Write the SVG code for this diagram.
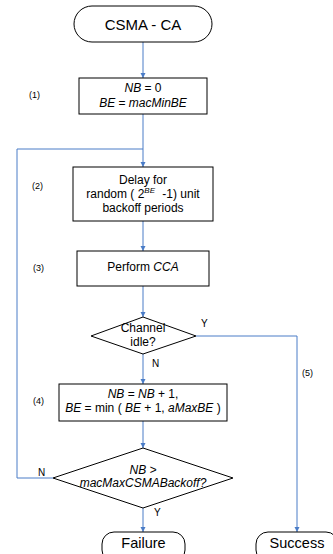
<svg xmlns="http://www.w3.org/2000/svg" width="333" height="554" viewBox="0 0 333 554">
<style>
.shape{fill:#fff;stroke:#000;stroke-width:1}
.t{font-family:"Liberation Sans",Arial,sans-serif;font-size:12px;fill:#000;text-anchor:middle}
.big{font-size:15px}
.term{font-size:14.5px}
.lab{font-family:"Liberation Sans",Arial,sans-serif;font-size:9px;fill:#000}
.yn{font-family:"Liberation Sans",Arial,sans-serif;font-size:10px;fill:#000}
.i{font-style:italic}
.c{fill:none;stroke:#4a7cc7;stroke-width:1}
</style>
<defs>
<marker id="ah" markerWidth="6" markerHeight="6" refX="5" refY="3" orient="auto" markerUnits="userSpaceOnUse">
<path d="M0,0.5 L5,3 L0,5.5 Z" fill="#4a7cc7"/>
</marker>
</defs>
<rect width="333" height="554" fill="#fff"/>
<g id="connectors">
<path class="c" d="M143,42 V78" marker-end="url(#ah)"/>
<path class="c" d="M143,114 V167" marker-end="url(#ah)"/>
<path class="c" d="M143,221 V251" marker-end="url(#ah)"/>
<path class="c" d="M143,286 V317" marker-end="url(#ah)"/>
<path class="c" d="M143,354 V384" marker-end="url(#ah)"/>
<path class="c" d="M143,421 V448" marker-end="url(#ah)"/>
<path class="c" d="M143,508 V532" marker-end="url(#ah)"/>
<path class="c" d="M196,336 H297 V532" marker-end="url(#ah)"/>
<path class="c" d="M53,478 H17 V149 H143"/>
<text class="yn" x="201" y="327">Y</text>
<text class="yn" x="152" y="367">N</text>
<text class="yn" x="38" y="476">N</text>
<text class="yn" x="154" y="516">Y</text>
<text class="lab" x="302" y="376">(5)</text>
</g>
<g id="start">
<rect class="shape" x="74" y="6" width="138" height="36" rx="18" ry="18"/>
<text class="t big" x="143" y="30">CSMA - CA</text>
</g>
<g id="step1">
<rect class="shape" x="79" y="78" width="128" height="36"/>
<text class="t" x="143" y="92"><tspan class="i">NB</tspan> = 0</text>
<text class="t" x="143" y="107"><tspan class="i">BE</tspan> = <tspan class="i">macMinBE</tspan></text>
<text class="lab" x="29" y="98">(1)</text>
</g>
<g id="step2">
<rect class="shape" x="73" y="167" width="140" height="54"/>
<text class="t" x="143" y="184">Delay for</text>
<text class="t" x="143" y="198">random ( 2<tspan class="i" font-size="8" dy="-5">BE</tspan><tspan dx="4" dy="5"> -1) unit</tspan></text>
<text class="t" x="143" y="212">backoff periods</text>
<text class="lab" x="32" y="189">(2)</text>
</g>
<g id="step3">
<rect class="shape" x="77" y="251" width="132" height="35"/>
<text class="t" x="143" y="271">Perform <tspan class="i">CCA</tspan></text>
<text class="lab" x="33" y="271">(3)</text>
</g>
<g id="idle">
<polygon class="shape" points="143,317 196,336 143,354 91,336"/>
<text class="t" x="143" y="332">Channel</text>
<text class="t" x="143" y="346">idle?</text>
</g>
<g id="step4">
<rect class="shape" x="59" y="384" width="168" height="37"/>
<text class="t" x="143" y="398"><tspan class="i">NB</tspan> = <tspan class="i">NB</tspan> + 1,</text>
<text class="t" x="143" y="412"><tspan class="i">BE</tspan> = min ( <tspan class="i">BE</tspan> + 1, <tspan class="i">aMaxBE</tspan> )</text>
<text class="lab" x="33" y="404">(4)</text>
</g>
<g id="maxcheck">
<polygon class="shape" points="143,448 233,478 143,508 53,478"/>
<text class="t i" x="143" y="474">NB &gt;</text>
<text class="t i" x="143" y="487">macMaxCSMABackoff?</text>
</g>
<g id="failure">
<rect class="shape" x="102" y="532" width="83" height="30" rx="12" ry="12"/>
<text class="t term" x="143.5" y="548">Failure</text>
</g>
<g id="success">
<rect class="shape" x="256" y="532" width="82" height="30" rx="12" ry="12"/>
<text class="t term" x="297" y="548">Success</text>
</g>
</svg>
